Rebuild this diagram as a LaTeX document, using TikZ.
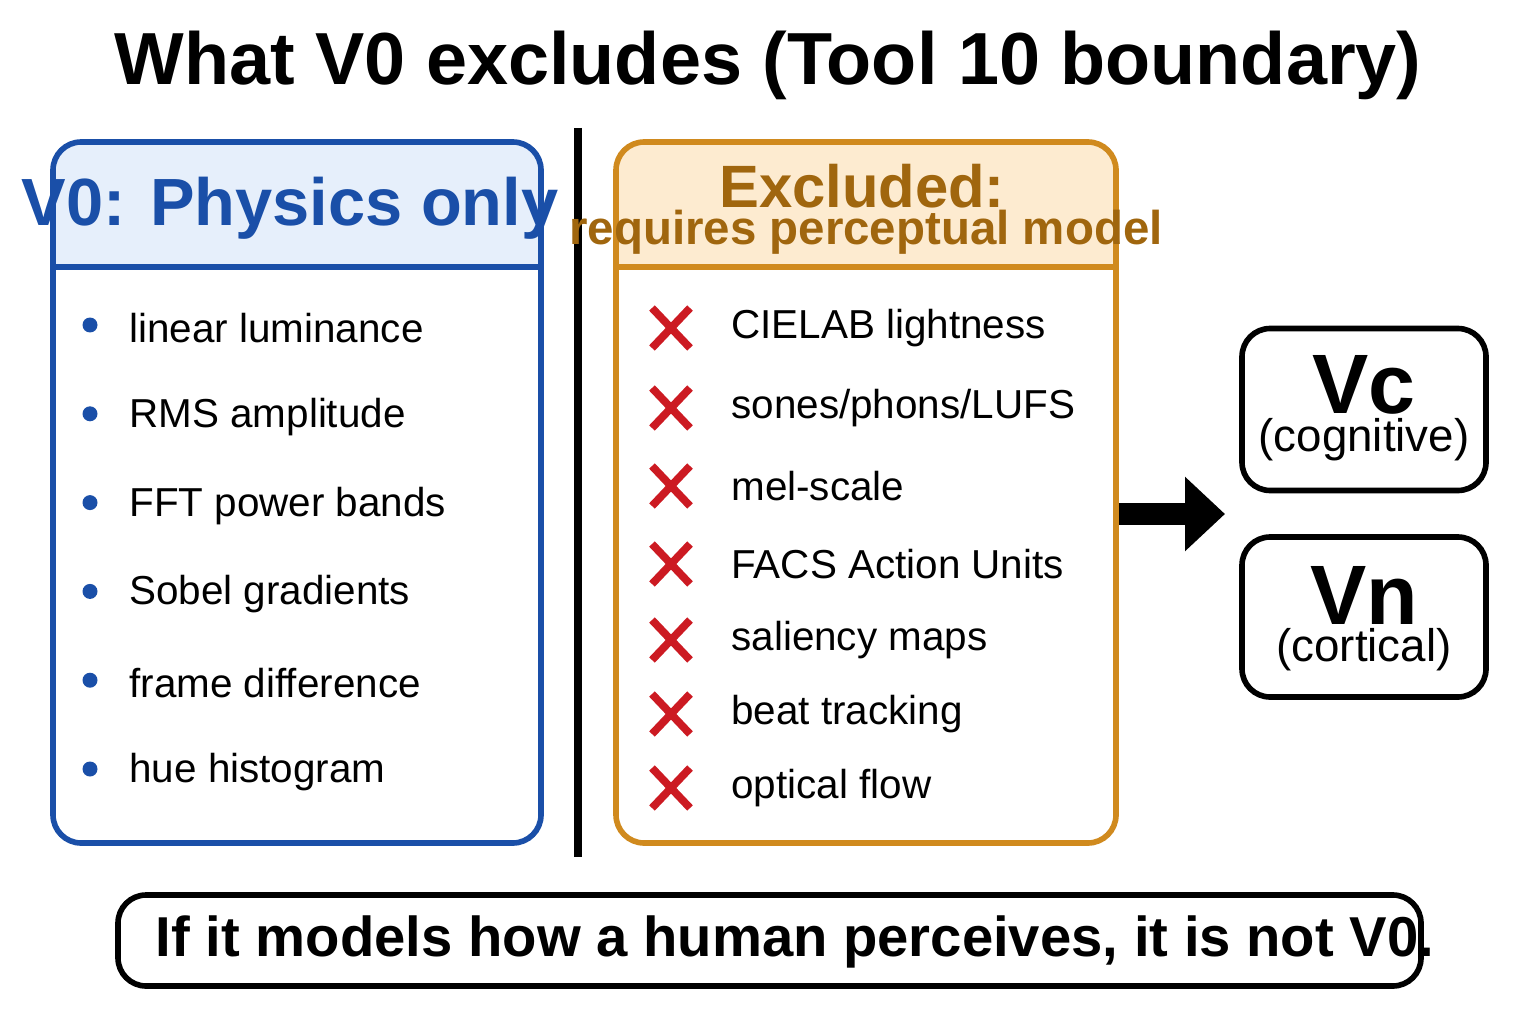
\documentclass[tikz,border=0pt]{standalone}
\usepackage{fontspec}
\setmainfont{Liberation Sans}
\usetikzlibrary{arrows.meta,positioning}
\definecolor{physblue}{HTML}{1A4FA8}
\definecolor{physfill}{HTML}{E6EFFB}
\definecolor{exclorange}{HTML}{D08A1E}
\definecolor{exclfill}{HTML}{FDEBD0}
\definecolor{excltext}{HTML}{A0660E}
\definecolor{crossred}{HTML}{CC1A22}
\tikzset{main box/.style={draw,line width=1.6pt,rounded corners=8pt},
  item text/.style={anchor=west,font=\fontsize{11.5}{13}\selectfont},
  v box/.style={draw,line width=1.6pt,rounded corners=8pt,minimum width=2.44cm,minimum height=1.62cm},}
\begin{document}
\begin{tikzpicture}[x=1cm,y=1cm]
    \useasboundingbox (0,0) rectangle (15.36,10.24);
    % title
    \node (title) at (7.68,9.59) {\fontsize{21}{24}\selectfont\bfseries What V0 excludes (Tool 10 boundary)};
    % left box
    \fill[physfill,rounded corners=8pt] (0.53,8.82) rectangle (5.41,7.57);
    \fill[physfill] (0.53,7.57) rectangle (5.41,8.0);
    \draw[physblue,line width=1.6pt] (0.53,7.57) -- (5.41,7.57);
    \node[main box,draw=physblue,minimum width=4.88cm,minimum height=7.01cm] (phys) at (2.97,5.315) {};
    \node[text=physblue] (physhead) at (2.9,8.16) {\fontsize{19}{22}\selectfont\bfseries V0: Physics only};
    \foreach \t [count=\i] in {linear luminance,RMS amplitude,FFT power bands,Sobel gradients,frame difference,hue histogram}{
      \pgfmathsetmacro{\yy}{10.24-3.28-0.888*(\i-1)}
      \fill[physblue] (0.90,\yy+0.03) circle (0.075);
      \node[item text] (phys\i) at (1.17,\yy) {\t};
    }
    % divider
    \draw[line width=2.5pt] (5.78,8.96) -- (5.78,1.67);
    % middle box
    \fill[exclfill,rounded corners=8pt] (6.16,8.82) rectangle (11.16,7.57);
    \fill[exclfill] (6.16,7.57) rectangle (11.16,8.0);
    \draw[exclorange,line width=1.6pt] (6.16,7.57) -- (11.16,7.57);
    \node[main box,draw=exclorange,minimum width=5.0cm,minimum height=7.01cm] (excl) at (8.66,5.315) {};
    \node[text=excltext] (exclhead) at (8.62,8.38) {\fontsize{17}{20}\selectfont\bfseries Excluded:};
    \node[text=excltext] (exclsub) at (8.66,7.92) {\fontsize{13.5}{16}\selectfont\bfseries requires perceptual model};
    \foreach \y/\t [count=\i] in {3.28/{CIELAB lightness},4.08/{sones/phons/LUFS},4.86/{mel-scale},5.64/{FACS Action Units},6.40/{saliency maps},7.14/{beat tracking},7.88/{optical flow}}{
      \pgfmathsetmacro{\yy}{10.24-\y}
      \draw[crossred,line width=2.2pt] (6.71-0.19,\yy-0.2) -- (6.71+0.19,\yy+0.2) (6.71-0.19,\yy+0.2) -- (6.71+0.19,\yy-0.2);
      \node[item text] (excl\i) at (7.19,\yy) {\t};
    }
    % right boxes
    \node[v box] (vc) at (13.64,6.145) {};
    \node (vclabel) at (13.64,6.39) {\fontsize{24}{26}\selectfont\bfseries Vc};
    \node (vcsub) at (13.64,5.84) {\fontsize{13}{15}\selectfont (cognitive)};
    \node[v box,minimum height=1.6cm] (vn) at (13.64,4.07) {};
    \node (vnlabel) at (13.64,4.29) {\fontsize{24}{26}\selectfont\bfseries Vn};
    \node (vnsub) at (13.64,3.74) {\fontsize{13}{15}\selectfont (cortical)};
    \coordinate (arrowend) at (12.25,5.10);
    \draw[line width=6pt,-{Triangle[length=0.4cm,width=0.72cm]}] (excl.east |- arrowend) -- (arrowend);
    % bottom rule
    \node[main box,minimum width=13.03cm,minimum height=0.91cm] (rule) at (7.695,0.835) {};
    \node (ruletext) at (7.95,0.82) {\fontsize{16}{19}\selectfont\bfseries If it models how a human perceives, it is not V0.};
\end{tikzpicture}
\end{document}
